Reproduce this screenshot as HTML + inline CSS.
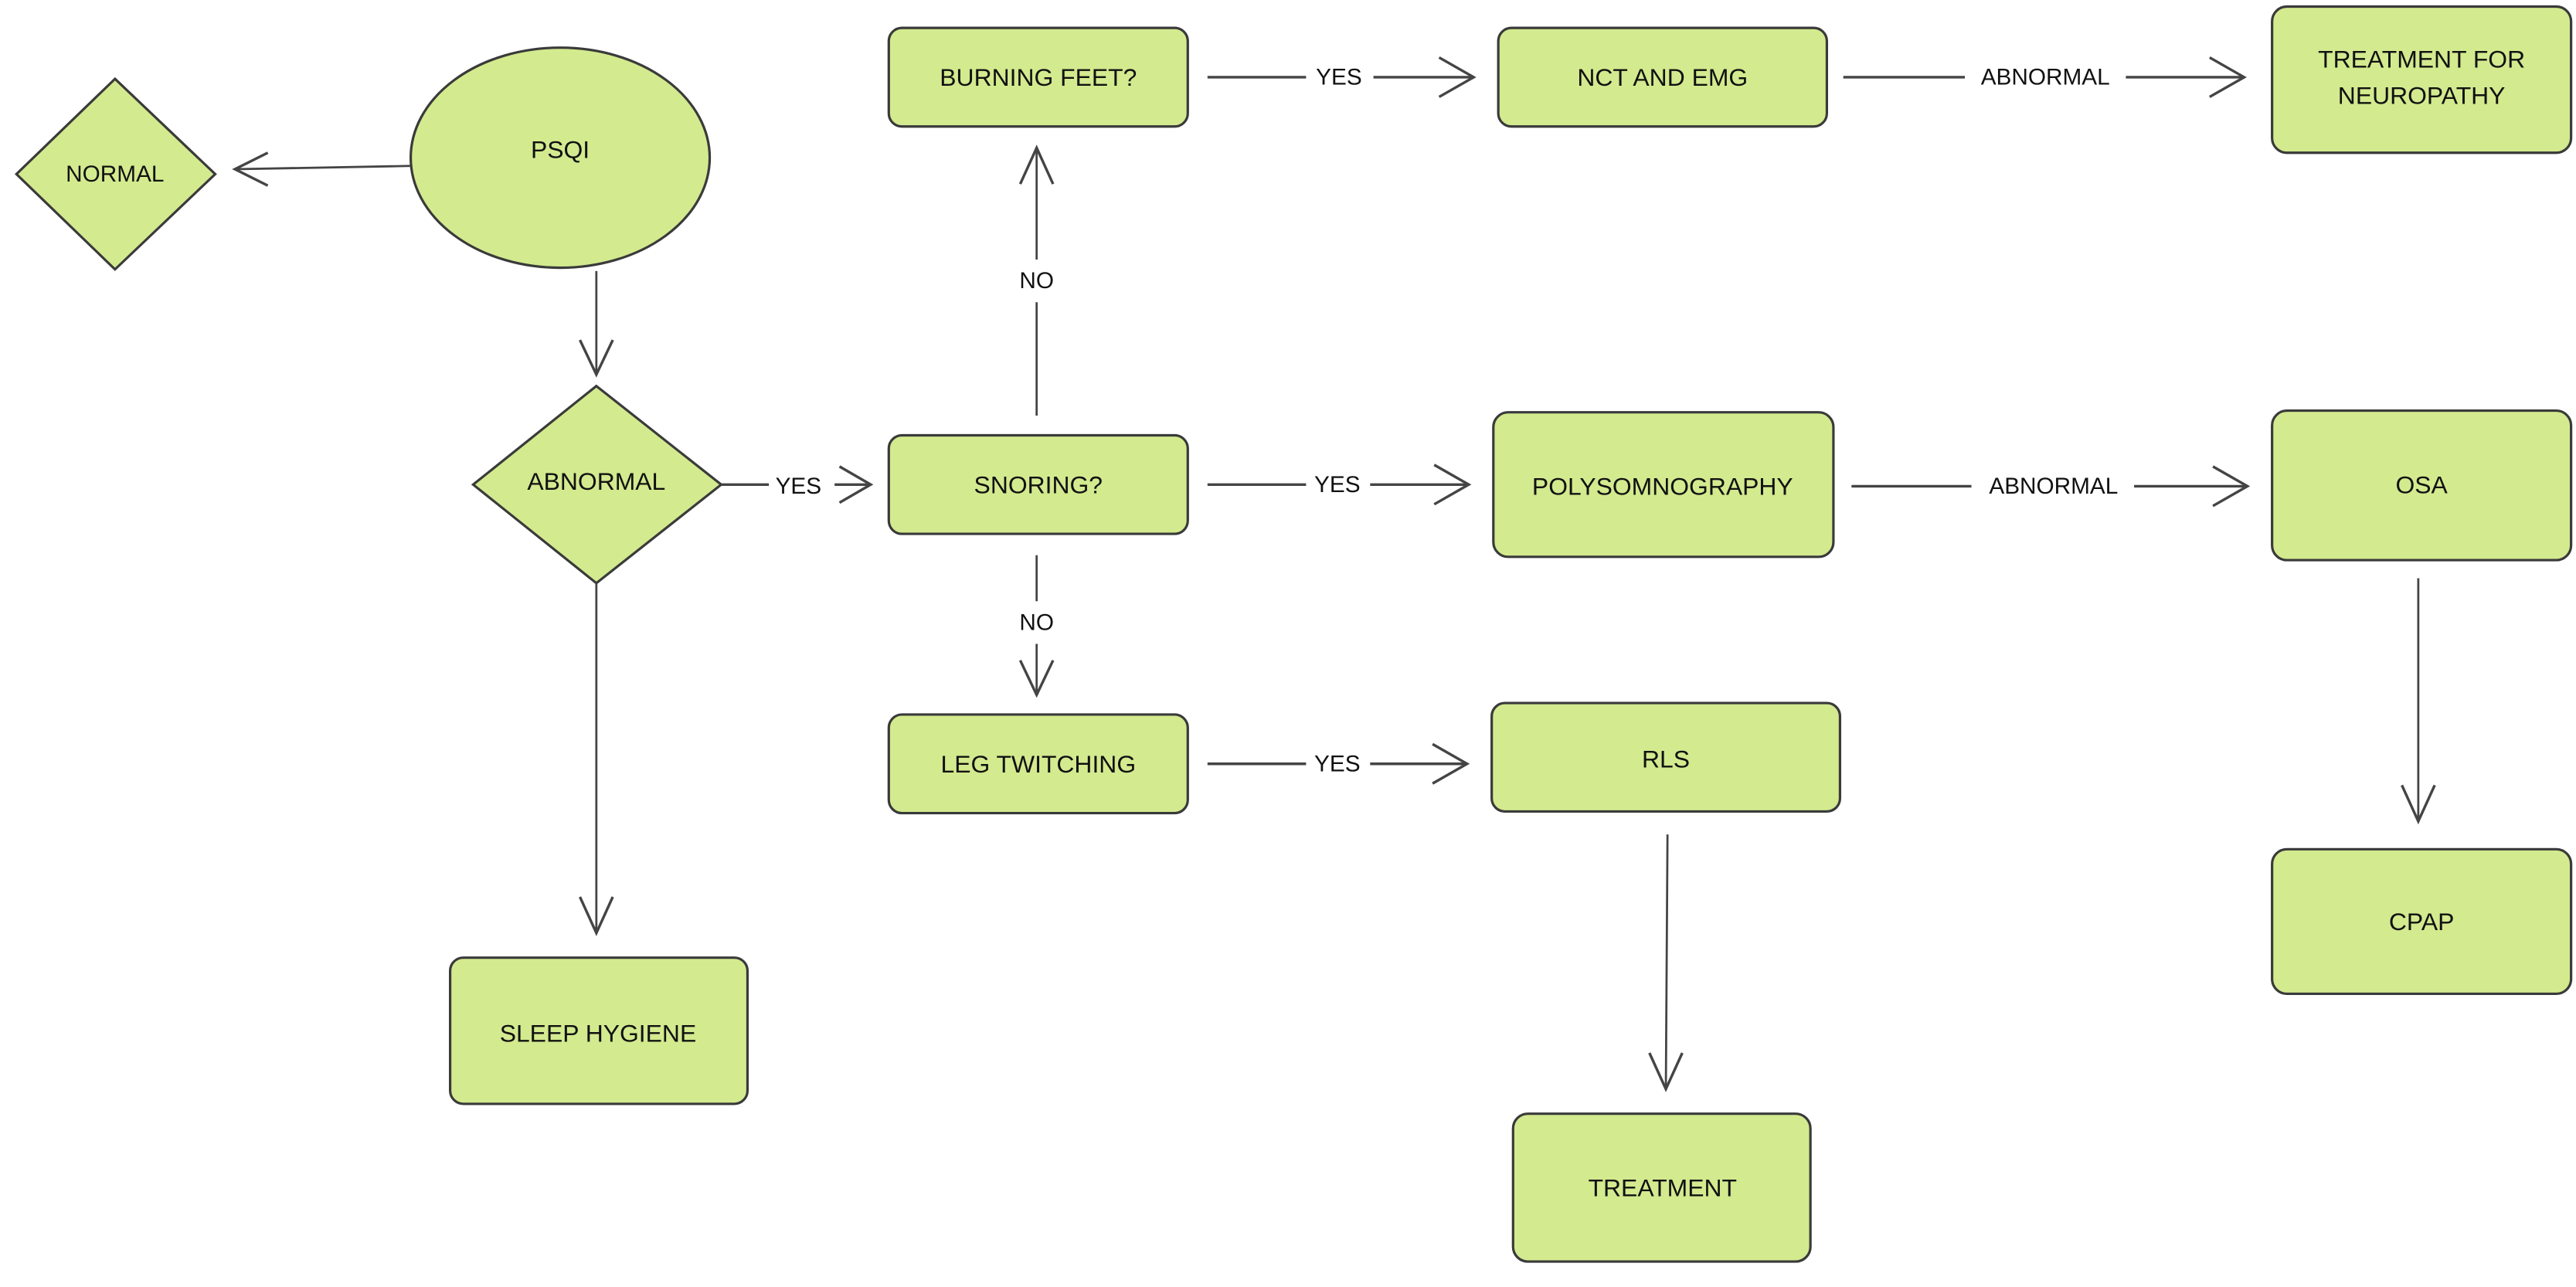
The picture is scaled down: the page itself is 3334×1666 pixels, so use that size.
<!DOCTYPE html>
<html><head><meta charset="utf-8"><style>
html,body{margin:0;padding:0;background:#fff;width:3334px;height:1666px;overflow:hidden}
svg{display:block}
text{font-family:"Liberation Sans",sans-serif;font-size:15px;fill:#111;text-anchor:middle;dominant-baseline:central}
.n{fill:#d3ea8f;stroke:#3a3a3a;stroke-width:1.5}
.l{stroke:#444;stroke-width:1.3;fill:none}
.h{stroke:#444;stroke-width:1.6;fill:none}
</style></head><body>
<svg width="3334" height="1666" viewBox="0 0 1568 783.5" preserveAspectRatio="none">
<!-- nodes -->
<ellipse class="n" cx="341" cy="96" rx="91" ry="67"/>
<text x="341" y="91">PSQI</text>
<polygon class="n" points="70,48 131,106 70,164 10,106"/>
<text x="70" y="106" style="font-size:14px">NORMAL</text>
<polygon class="n" points="363,235 439,295 363,355 288,295"/>
<text x="363" y="293">ABNORMAL</text>
<rect class="n" x="274" y="583" width="181" height="89" rx="8"/>
<text x="364" y="629">SLEEP HYGIENE</text>
<rect class="n" x="541" y="17" width="182" height="60" rx="8"/>
<text x="632" y="47">BURNING FEET?</text>
<rect class="n" x="912" y="17" width="200" height="60" rx="8"/>
<text x="1012" y="47">NCT AND EMG</text>
<rect class="n" x="1383" y="4" width="182" height="89" rx="9"/>
<text x="1474" y="36">TREATMENT  FOR</text>
<text x="1474" y="58">NEUROPATHY</text>
<rect class="n" x="541" y="265" width="182" height="60" rx="8"/>
<text x="632" y="295">SNORING?</text>
<rect class="n" x="909" y="251" width="207" height="88" rx="9"/>
<text x="1012" y="296">POLYSOMNOGRAPHY</text>
<rect class="n" x="1383" y="250" width="182" height="91" rx="9"/>
<text x="1474" y="295">OSA</text>
<rect class="n" x="1383" y="517" width="182" height="88" rx="9"/>
<text x="1474" y="561">CPAP</text>
<rect class="n" x="541" y="435" width="182" height="60" rx="8"/>
<text x="632" y="465">LEG TWITCHING</text>
<rect class="n" x="908" y="428" width="212" height="66" rx="8"/>
<text x="1014" y="462">RLS</text>
<rect class="n" x="921" y="678" width="181" height="90" rx="9"/>
<text x="1012" y="723">TREATMENT</text>

<!-- connectors -->
<line class="l" x1="250" y1="101" x2="143" y2="103"/>
<polyline class="h" points="163,93 143,103 163,113"/>
<line class="l" x1="363" y1="165" x2="363" y2="228"/>
<polyline class="h" points="353,207 363,228 373,207"/>
<line class="l" x1="363" y1="355" x2="363" y2="568"/>
<polyline class="h" points="353,546 363,568 373,546"/>
<line class="h" x1="439" y1="295" x2="468" y2="295"/>
<text x="486" y="296" style="font-size:14px">YES</text>
<line class="h" x1="508" y1="295" x2="530" y2="295"/>
<polyline class="h" points="511,284 530,295 511,306"/>

<line class="h" x1="735" y1="47" x2="795" y2="47"/>
<text x="815" y="47" style="font-size:14px">YES</text>
<line class="h" x1="836" y1="47" x2="897" y2="47"/>
<polyline class="h" points="876,35 897,47 876,59"/>
<line class="h" x1="1122" y1="47" x2="1196" y2="47"/>
<text x="1245" y="47" style="font-size:14px">ABNORMAL</text>
<line class="h" x1="1294" y1="47" x2="1366" y2="47"/>
<polyline class="h" points="1345,35 1366,47 1345,59"/>

<line class="h" x1="735" y1="295" x2="795" y2="295"/>
<text x="814" y="295" style="font-size:14px">YES</text>
<line class="h" x1="834" y1="295" x2="894" y2="295"/>
<polyline class="h" points="873,283 894,295 873,307"/>
<line class="h" x1="1127" y1="296" x2="1200" y2="296"/>
<text x="1250" y="296" style="font-size:14px">ABNORMAL</text>
<line class="h" x1="1299" y1="296" x2="1368" y2="296"/>
<polyline class="h" points="1347,284 1368,296 1347,308"/>

<line class="h" x1="735" y1="465" x2="795" y2="465"/>
<text x="814" y="465" style="font-size:14px">YES</text>
<line class="h" x1="834" y1="465" x2="893" y2="465"/>
<polyline class="h" points="872,453 893,465 872,477"/>

<line class="l" x1="631" y1="253" x2="631" y2="184"/>
<text x="631" y="171" style="font-size:14px">NO</text>
<line class="l" x1="631" y1="158" x2="631" y2="90"/>
<polyline class="h" points="621,112 631,90 641,112"/>
<line class="l" x1="631" y1="338" x2="631" y2="366"/>
<text x="631" y="379" style="font-size:14px">NO</text>
<line class="l" x1="631" y1="392" x2="631" y2="423"/>
<polyline class="h" points="621,402 631,423 641,402"/>

<line class="l" x1="1472" y1="352" x2="1472" y2="500"/>
<polyline class="h" points="1462,478 1472,500 1482,478"/>
<line class="l" x1="1015" y1="508" x2="1014" y2="663"/>
<polyline class="h" points="1004,641 1014,663 1024,641"/>
</svg>
</body></html>
